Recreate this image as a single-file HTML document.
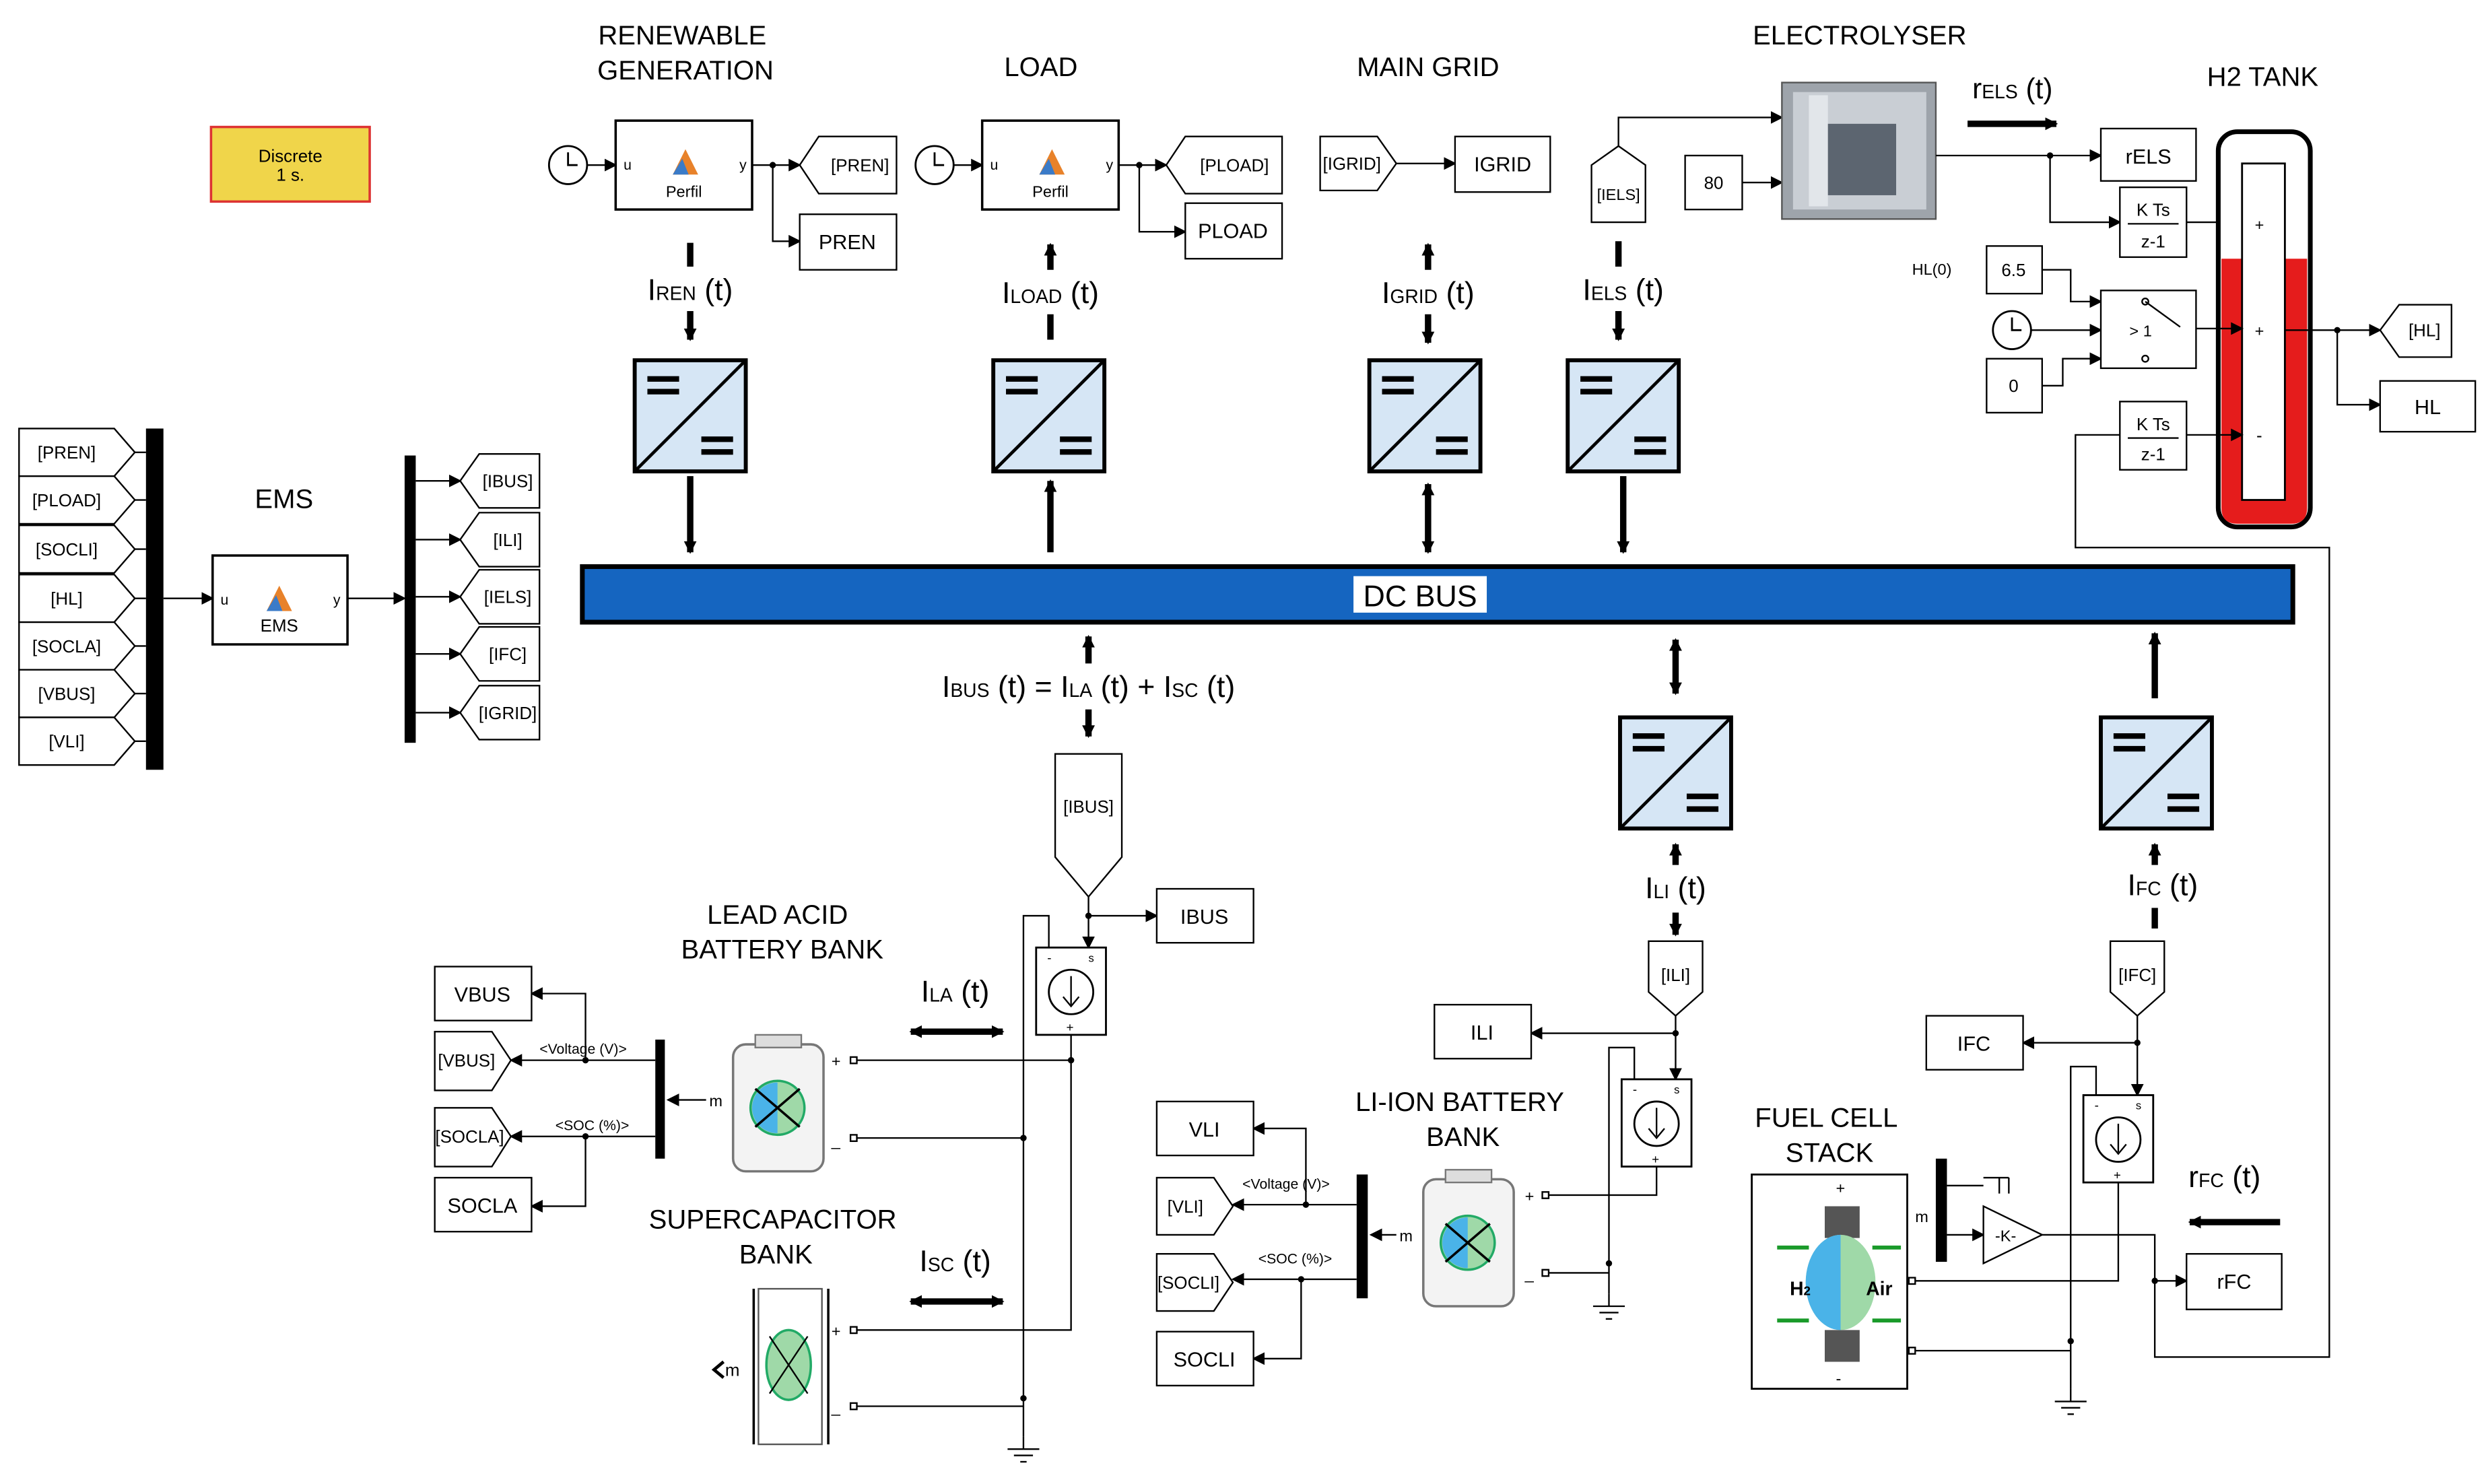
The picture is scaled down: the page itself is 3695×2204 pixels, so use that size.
<!DOCTYPE html>
<html><head><meta charset="utf-8">
<style>
html,body{margin:0;padding:0;background:#fff;}
svg{display:block;}
text{font-family:"Liberation Sans",Arial,sans-serif;fill:#000;}
</style></head>
<body>
<svg width="3695" height="2204" viewBox="0 0 1568 935" xmlns="http://www.w3.org/2000/svg" preserveAspectRatio="none">
<defs>
<marker id="ah" markerWidth="8" markerHeight="8" refX="7" refY="4" orient="auto" markerUnits="userSpaceOnUse"><path d="M0,0 L8,4 L0,8 z" fill="#000"/></marker>
<marker id="aws" markerWidth="8" markerHeight="8" refX="7" refY="4" orient="auto-start-reverse" markerUnits="userSpaceOnUse"><path d="M0,0 L8,4 L0,8 z" fill="#000"/></marker>
<g id="conv">
<rect x="0" y="0" width="70" height="70" fill="#d6e6f5" stroke="#000" stroke-width="2.5"/>
<line x1="0" y1="70" x2="70" y2="0" stroke="#000" stroke-width="2"/>
<rect x="8" y="10" width="20" height="3.5" fill="#000"/><rect x="8" y="18" width="20" height="3.5" fill="#000"/>
<rect x="42" y="48" width="20" height="3.5" fill="#000"/><rect x="42" y="56" width="20" height="3.5" fill="#000"/>
</g>
<g id="csrc">
<rect x="0" y="0" width="44" height="55" fill="#fff" stroke="#000" stroke-width="1.2"/>
<circle cx="22" cy="28" r="14" fill="#fff" stroke="#000" stroke-width="1.2"/>
<line x1="22" y1="18" x2="22" y2="36" stroke="#000"/><path d="M17,31 L22,37 L27,31" fill="none" stroke="#000"/>
<text x="7" y="9" font-size="8">-</text><text x="33" y="9" font-size="7">s</text><text x="19" y="53" font-size="8">+</text>
</g>
<g id="clk"><circle cx="0" cy="0" r="12" fill="#fff" stroke="#000" stroke-width="1.2"/><path d="M0,-8 L0,0 L6,0" fill="none" stroke="#000" stroke-width="1.2"/></g>
<g id="gnd"><line x1="0" y1="0" x2="0" y2="8" stroke="#000"/><line x1="-10" y1="8" x2="10" y2="8" stroke="#000"/><line x1="-6" y1="12" x2="6" y2="12" stroke="#000"/><line x1="-2" y1="16" x2="2" y2="16" stroke="#000"/></g>
<g id="batt">
<rect x="0" y="6" width="57" height="80" rx="8" fill="#f3f3f3" stroke="#777" stroke-width="1.5"/>
<rect x="14" y="0" width="29" height="8" fill="#ddd" stroke="#777"/>
<circle cx="28" cy="46" r="17" fill="#9fd9a8" stroke="#2a6" stroke-width="1.5"/>
<path d="M12,46 A16,16 0 0 1 28,30 L28,62 A16,16 0 0 1 12,46z" fill="#4ab3e8"/>
<line x1="14" y1="34" x2="42" y2="58" stroke="#000" stroke-width="1.5"/><line x1="14" y1="58" x2="42" y2="34" stroke="#000" stroke-width="1.5"/>
</g>
</defs>

<rect x="133" y="80" width="100" height="47" fill="#f0d54a" stroke="#d33" stroke-width="1.5"/>
<text x="183" y="102" font-size="11" text-anchor="middle">Discrete</text>
<text x="183" y="114" font-size="11" text-anchor="middle">1 s.</text>

<g font-size="17" text-anchor="middle">
<text x="430" y="28">RENEWABLE</text><text x="432" y="50">GENERATION</text>
<text x="656" y="48">LOAD</text>
<text x="900" y="48">MAIN GRID</text>
<text x="1172" y="28">ELECTROLYSER</text>
<text x="1426" y="54">H2 TANK</text>
<text x="179" y="320">EMS</text>
<text x="490" y="582">LEAD ACID</text><text x="493" y="604">BATTERY BANK</text>
<text x="487" y="774">SUPERCAPACITOR</text><text x="489" y="796">BANK</text>
<text x="920" y="700">LI-ION BATTERY</text><text x="922" y="722">BANK</text>
<text x="1151" y="710">FUEL CELL</text><text x="1153" y="732">STACK</text>
</g>

<use href="#clk" x="358" y="104"/>
<line x1="370" y1="104" x2="388" y2="104" stroke="#000" marker-end="url(#ah)"/>
<rect x="388" y="76" width="86" height="56" fill="#fff" stroke="#000" stroke-width="1.5"/>
<text x="393" y="107" font-size="9">u</text><text x="466" y="107" font-size="9">y</text>
<path d="M424,110 L432,94 L440,110 z" fill="#e8822a"/><path d="M424,110 L430,100 L434,110z" fill="#3a7bc8"/>
<text x="431" y="124" font-size="10" text-anchor="middle">Perfil</text>
<line x1="474" y1="104" x2="504" y2="104" stroke="#000" marker-end="url(#ah)"/>
<circle cx="487" cy="104" r="2" fill="#000"/>
<polyline points="487,104 487,152 504,152" fill="none" stroke="#000" marker-end="url(#ah)"/>
<polygon points="504,104 516,86 565,86 565,122 516,122" fill="#fff" stroke="#000"/>
<text x="542" y="108" font-size="11" text-anchor="middle">[PREN]</text>
<rect x="504" y="135" width="61" height="35" fill="#fff" stroke="#000"/>
<text x="534" y="157" font-size="13" text-anchor="middle">PREN</text>

<use href="#clk" x="589" y="104"/>
<line x1="601" y1="104" x2="619" y2="104" stroke="#000" marker-end="url(#ah)"/>
<rect x="619" y="76" width="86" height="56" fill="#fff" stroke="#000" stroke-width="1.5"/>
<text x="624" y="107" font-size="9">u</text><text x="697" y="107" font-size="9">y</text>
<path d="M655,110 L663,94 L671,110 z" fill="#e8822a"/><path d="M655,110 L661,100 L665,110z" fill="#3a7bc8"/>
<text x="662" y="124" font-size="10" text-anchor="middle">Perfil</text>
<line x1="705" y1="104" x2="735" y2="104" stroke="#000" marker-end="url(#ah)"/>
<circle cx="718" cy="104" r="2" fill="#000"/>
<polyline points="718,104 718,146 747,146" fill="none" stroke="#000" marker-end="url(#ah)"/>
<polygon points="735,104 747,86 808,86 808,122 747,122" fill="#fff" stroke="#000"/>
<text x="778" y="108" font-size="11" text-anchor="middle">[PLOAD]</text>
<rect x="747" y="128" width="61" height="35" fill="#fff" stroke="#000"/>
<text x="777" y="150" font-size="13" text-anchor="middle">PLOAD</text>

<polygon points="832,86 868,86 880,103 868,120 832,120" fill="#fff" stroke="#000"/>
<text x="852" y="107" font-size="11" text-anchor="middle">[IGRID]</text>
<line x1="880" y1="103" x2="917" y2="103" stroke="#000" marker-end="url(#ah)"/>
<rect x="917" y="86" width="60" height="35" fill="#fff" stroke="#000"/>
<text x="947" y="108" font-size="13" text-anchor="middle">IGRID</text>

<polygon points="1003,104 1020,92 1037,104 1037,140 1003,140" fill="#fff" stroke="#000"/>
<text x="1020" y="126" font-size="10" text-anchor="middle">[IELS]</text>
<polyline points="1020,92 1020,74 1123,74" fill="none" stroke="#000" marker-end="url(#ah)"/>
<rect x="1062" y="98" width="36" height="34" fill="#fff" stroke="#000"/>
<text x="1080" y="119" font-size="11" text-anchor="middle">80</text>
<line x1="1098" y1="115" x2="1123" y2="115" stroke="#000" marker-end="url(#ah)"/>
<rect x="1123" y="52" width="97" height="86" fill="#9ea4ab" stroke="#555"/>
<rect x="1130" y="58" width="84" height="74" fill="#c9ced4"/>
<rect x="1150" y="78" width="45" height="45" fill="#5c6570"/>
<rect x="1140" y="60" width="12" height="70" fill="#e2e6ea"/>
<line x1="1240" y1="78" x2="1296" y2="78" stroke="#000" stroke-width="4" marker-end="url(#ah)"/>
<text x="1243" y="62" font-size="18">r<tspan font-size="12">ELS</tspan> (t)</text>
<line x1="1220" y1="98" x2="1324" y2="98" stroke="#000" marker-end="url(#ah)"/>
<circle cx="1292" cy="98" r="2" fill="#000"/>
<polyline points="1292,98 1292,140 1336,140" fill="none" stroke="#000" marker-end="url(#ah)"/>
<rect x="1324" y="81" width="60" height="33" fill="#fff" stroke="#000"/>
<text x="1354" y="103" font-size="13" text-anchor="middle">rELS</text>
<rect x="1336" y="118" width="42" height="44" fill="#fff" stroke="#000"/>
<text x="1357" y="136" font-size="11" text-anchor="middle">K Ts</text><line x1="1341" y1="141" x2="1373" y2="141" stroke="#000"/>
<text x="1357" y="156" font-size="11" text-anchor="middle">z-1</text>
<line x1="1378" y1="140" x2="1413" y2="140" stroke="#000" marker-end="url(#ah)"/>

<rect x="1398" y="83" width="58" height="249" rx="12" fill="#fff" stroke="#000" stroke-width="3"/>
<path d="M1400,163 L1454,163 L1454,320 Q1454,330 1444,330 L1410,330 Q1400,330 1400,320z" fill="#e51c1c"/>
<rect x="1413" y="103" width="27" height="212" fill="#fff" stroke="#000" stroke-width="1.2"/>
<text x="1421" y="145" font-size="10">+</text><text x="1421" y="212" font-size="10">+</text><text x="1422" y="278" font-size="11">-</text>
<text x="1205" y="173" font-size="10">HL(0)</text>
<rect x="1252" y="155" width="35" height="30" fill="#fff" stroke="#000"/>
<text x="1269" y="174" font-size="11" text-anchor="middle">6.5</text>
<polyline points="1287,170 1305,170 1305,190 1324,190" fill="none" stroke="#000" marker-end="url(#ah)"/>
<use href="#clk" x="1268" y="208"/>
<line x1="1280" y1="208" x2="1324" y2="208" stroke="#000" marker-end="url(#ah)"/>
<rect x="1252" y="226" width="35" height="34" fill="#fff" stroke="#000"/>
<text x="1269" y="247" font-size="11" text-anchor="middle">0</text>
<polyline points="1287,243 1300,243 1300,226 1324,226" fill="none" stroke="#000" marker-end="url(#ah)"/>
<rect x="1324" y="183" width="60" height="49" fill="#fff" stroke="#000"/>
<text x="1342" y="212" font-size="10">&gt; 1</text>
<path d="M1352,190 L1374,206" stroke="#000"/><circle cx="1352" cy="190" r="2" fill="none" stroke="#000"/><circle cx="1352" cy="226" r="2" fill="none" stroke="#000"/>
<line x1="1384" y1="207" x2="1413" y2="207" stroke="#000" marker-end="url(#ah)"/>
<rect x="1336" y="253" width="42" height="43" fill="#fff" stroke="#000"/>
<text x="1357" y="271" font-size="11" text-anchor="middle">K Ts</text><line x1="1341" y1="276" x2="1373" y2="276" stroke="#000"/>
<text x="1357" y="290" font-size="11" text-anchor="middle">z-1</text>
<line x1="1378" y1="274" x2="1413" y2="274" stroke="#000" marker-end="url(#ah)"/>
<line x1="1440" y1="208" x2="1500" y2="208" stroke="#000" marker-end="url(#ah)"/>
<circle cx="1473" cy="208" r="2" fill="#000"/>
<polyline points="1473,208 1473,255 1500,255" fill="none" stroke="#000" marker-end="url(#ah)"/>
<polygon points="1500,208 1512,192 1545,192 1545,225 1512,225" fill="#fff" stroke="#000"/>
<text x="1528" y="212" font-size="11" text-anchor="middle">[HL]</text>
<rect x="1500" y="240" width="60" height="32" fill="#fff" stroke="#000"/>
<text x="1530" y="261" font-size="13" text-anchor="middle">HL</text>

<use href="#conv" x="400" y="227"/>
<use href="#conv" x="626" y="227"/>
<use href="#conv" x="863" y="227"/>
<use href="#conv" x="988" y="227"/>
<use href="#conv" x="1021" y="452"/>
<use href="#conv" x="1324" y="452"/>

<rect x="367" y="357" width="1078" height="35" fill="#1565c0" stroke="#000" stroke-width="3"/>
<rect x="853" y="363" width="84" height="23" fill="#fff"/>
<text x="895" y="382" font-size="19" text-anchor="middle">DC BUS</text>

<g stroke="#000" stroke-width="4">
<line x1="435" y1="153" x2="435" y2="168"/><line x1="435" y1="196" x2="435" y2="214" marker-end="url(#ah)"/>
<line x1="435" y1="300" x2="435" y2="348" marker-end="url(#ah)"/>
<line x1="662" y1="198" x2="662" y2="214"/><line x1="662" y1="170" x2="662" y2="154" marker-end="url(#ah)"/>
<line x1="662" y1="348" x2="662" y2="303" marker-end="url(#ah)"/>
<line x1="900" y1="170" x2="900" y2="154" marker-end="url(#ah)"/><line x1="900" y1="198" x2="900" y2="216" marker-end="url(#ah)"/>
<line x1="900" y1="305" x2="900" y2="348" marker-end="url(#ah)" marker-start="url(#aws)"/>
<line x1="1056" y1="403" x2="1056" y2="437" marker-end="url(#ah)" marker-start="url(#aws)"/>
<line x1="1358" y1="440" x2="1358" y2="399" marker-end="url(#ah)"/>
<line x1="1020" y1="152" x2="1020" y2="168"/><line x1="1020" y1="196" x2="1020" y2="214" marker-end="url(#ah)"/>
<line x1="1023" y1="300" x2="1023" y2="348" marker-end="url(#ah)"/>
<line x1="686" y1="418" x2="686" y2="401" marker-end="url(#ah)"/>
<line x1="686" y1="447" x2="686" y2="464" marker-end="url(#ah)"/>
<line x1="1056" y1="545" x2="1056" y2="532" marker-end="url(#ah)"/>
<line x1="1056" y1="575" x2="1056" y2="589" marker-end="url(#ah)"/>
<line x1="1358" y1="545" x2="1358" y2="532" marker-end="url(#ah)"/>
<line x1="1358" y1="572" x2="1358" y2="585"/>
<line x1="574" y1="650" x2="632" y2="650" marker-end="url(#ah)" marker-start="url(#aws)"/>
<line x1="574" y1="820" x2="632" y2="820" marker-end="url(#ah)" marker-start="url(#aws)"/>
<line x1="1437" y1="770" x2="1380" y2="770" marker-end="url(#ah)"/>
</g>
<g font-size="19" text-anchor="middle">
<text x="435" y="189">I<tspan font-size="12">REN</tspan> (t)</text>
<text x="662" y="191">I<tspan font-size="12">LOAD</tspan> (t)</text>
<text x="900" y="191">I<tspan font-size="12">GRID</tspan> (t)</text>
<text x="1023" y="189">I<tspan font-size="12">ELS</tspan> (t)</text>
<text x="686" y="439">I<tspan font-size="12">BUS</tspan> (t) = I<tspan font-size="12">LA</tspan> (t) + I<tspan font-size="12">SC</tspan> (t)</text>
<text x="1056" y="566">I<tspan font-size="12">LI</tspan> (t)</text>
<text x="1363" y="564">I<tspan font-size="12">FC</tspan> (t)</text>
<text x="602" y="631">I<tspan font-size="12">LA</tspan> (t)</text>
<text x="602" y="801">I<tspan font-size="12">SC</tspan> (t)</text>
<text x="1402" y="748">r<tspan font-size="12">FC</tspan> (t)</text>
</g>

<rect x="92" y="270" width="11" height="215" fill="#000"/>
<g font-size="11" text-anchor="middle">
<polygon points="12,270 72,270 85,285 72,300 12,300" fill="#fff" stroke="#000"/><text x="42" y="289">[PREN]</text>
<polygon points="12,300 72,300 85,315 72,330 12,330" fill="#fff" stroke="#000"/><text x="42" y="319">[PLOAD]</text>
<polygon points="12,331 72,331 85,346 72,361 12,361" fill="#fff" stroke="#000"/><text x="42" y="350">[SOCLI]</text>
<polygon points="12,362 72,362 85,377 72,392 12,392" fill="#fff" stroke="#000"/><text x="42" y="381">[HL]</text>
<polygon points="12,392 72,392 85,407 72,422 12,422" fill="#fff" stroke="#000"/><text x="42" y="411">[SOCLA]</text>
<polygon points="12,422 72,422 85,437 72,452 12,452" fill="#fff" stroke="#000"/><text x="42" y="441">[VBUS]</text>
<polygon points="12,452 72,452 85,467 72,482 12,482" fill="#fff" stroke="#000"/><text x="42" y="471">[VLI]</text>
</g>
<g stroke="#000">
<line x1="85" y1="285" x2="92" y2="285"/><line x1="85" y1="315" x2="92" y2="315"/><line x1="85" y1="346" x2="92" y2="346"/><line x1="85" y1="377" x2="92" y2="377"/><line x1="85" y1="407" x2="92" y2="407"/><line x1="85" y1="437" x2="92" y2="437"/><line x1="85" y1="467" x2="92" y2="467"/>
<line x1="103" y1="377" x2="134" y2="377" marker-end="url(#ah)"/>
<line x1="219" y1="377" x2="255" y2="377" marker-end="url(#ah)"/>
</g>
<rect x="134" y="350" width="85" height="56" fill="#fff" stroke="#000" stroke-width="1.5"/>
<text x="139" y="381" font-size="9">u</text><text x="210" y="381" font-size="9">y</text>
<path d="M168,385 L176,369 L184,385 z" fill="#e8822a"/><path d="M168,385 L174,375 L178,385z" fill="#3a7bc8"/>
<text x="176" y="398" font-size="11" text-anchor="middle">EMS</text>
<rect x="255" y="287" width="7" height="181" fill="#000"/>
<g stroke="#000"><line x1="262" y1="303" x2="290" y2="303" marker-end="url(#ah)"/><line x1="262" y1="340" x2="290" y2="340" marker-end="url(#ah)"/><line x1="262" y1="376" x2="290" y2="376" marker-end="url(#ah)"/><line x1="262" y1="412" x2="290" y2="412" marker-end="url(#ah)"/><line x1="262" y1="449" x2="290" y2="449" marker-end="url(#ah)"/></g>
<g font-size="11" text-anchor="middle">
<polygon points="290,303 302,286 340,286 340,320 302,320" fill="#fff" stroke="#000"/><text x="320" y="307">[IBUS]</text>
<polygon points="290,340 302,323 340,323 340,357 302,357" fill="#fff" stroke="#000"/><text x="320" y="344">[ILI]</text>
<polygon points="290,376 302,359 340,359 340,393 302,393" fill="#fff" stroke="#000"/><text x="320" y="380">[IELS]</text>
<polygon points="290,412 302,395 340,395 340,429 302,429" fill="#fff" stroke="#000"/><text x="320" y="416">[IFC]</text>
<polygon points="290,449 302,432 340,432 340,466 302,466" fill="#fff" stroke="#000"/><text x="320" y="453">[IGRID]</text>
</g>

<polygon points="665,475 707,475 707,540 686,565 665,540" fill="#fff" stroke="#000"/>
<text x="686" y="512" font-size="11" text-anchor="middle">[IBUS]</text>
<line x1="686" y1="565" x2="686" y2="597" stroke="#000" marker-end="url(#ah)"/>
<circle cx="686" cy="577" r="2" fill="#000"/>
<line x1="686" y1="577" x2="729" y2="577" stroke="#000" marker-end="url(#ah)"/>
<rect x="729" y="560" width="61" height="34" fill="#fff" stroke="#000"/>
<text x="759" y="582" font-size="13" text-anchor="middle">IBUS</text>
<use href="#csrc" x="653" y="597"/>
<g stroke="#000" fill="none">
<polyline points="661,597 661,577 645,577 645,905"/>
<polyline points="675,652 675,838 538,838"/>
<line x1="538" y1="668" x2="675" y2="668"/>
<line x1="538" y1="717" x2="645" y2="717"/>
<line x1="538" y1="886" x2="645" y2="886"/>
</g>
<circle cx="675" cy="668" r="2" fill="#000"/><circle cx="645" cy="717" r="2" fill="#000"/><circle cx="645" cy="881" r="2" fill="#000"/>
<use href="#gnd" x="645" y="905"/>
<rect x="536" y="666" width="4" height="4" fill="#fff" stroke="#000"/><rect x="536" y="715" width="4" height="4" fill="#fff" stroke="#000"/>
<rect x="536" y="836" width="4" height="4" fill="#fff" stroke="#000"/><rect x="536" y="884" width="4" height="4" fill="#fff" stroke="#000"/>
<text x="524" y="672" font-size="10">+</text><text x="524" y="722" font-size="10">_</text>
<text x="524" y="842" font-size="10">+</text><text x="524" y="890" font-size="10">_</text>

<use href="#batt" x="462" y="652"/>
<rect x="413" y="655" width="6" height="75" fill="#000"/>
<text x="447" y="697" font-size="10" fill="#00a">m</text>
<line x1="445" y1="693" x2="421" y2="693" stroke="#000" marker-end="url(#ah)"/>
<g stroke="#000" fill="none">
<polyline points="413,668 369,668 369,626 335,626" marker-end="url(#ah)"/>
<line x1="369" y1="668" x2="322" y2="668" marker-end="url(#ah)"/>
<polyline points="413,716 369,716 369,760 335,760" marker-end="url(#ah)"/>
<line x1="369" y1="716" x2="322" y2="716" marker-end="url(#ah)"/>
</g>
<circle cx="369" cy="668" r="2" fill="#000"/><circle cx="369" cy="716" r="2" fill="#000"/>
<text x="340" y="664" font-size="9">&lt;Voltage (V)&gt;</text><text x="350" y="712" font-size="9">&lt;SOC (%)&gt;</text>
<rect x="274" y="609" width="61" height="34" fill="#fff" stroke="#000"/><text x="304" y="631" font-size="13" text-anchor="middle">VBUS</text>
<polygon points="274,650 310,650 322,668 310,687 274,687" fill="#fff" stroke="#000"/><text x="294" y="672" font-size="11" text-anchor="middle">[VBUS]</text>
<polygon points="274,698 310,698 322,716 310,735 274,735" fill="#fff" stroke="#000"/><text x="296" y="720" font-size="11" text-anchor="middle">[SOCLA]</text>
<rect x="274" y="742" width="61" height="34" fill="#fff" stroke="#000"/><text x="304" y="764" font-size="13" text-anchor="middle">SOCLA</text>

<rect x="478" y="812" width="40" height="98" fill="#fff" stroke="#555"/>
<line x1="475" y1="812" x2="475" y2="910" stroke="#000" stroke-width="1.5"/><line x1="522" y1="812" x2="522" y2="910" stroke="#000" stroke-width="1.5"/>
<ellipse cx="497" cy="860" rx="14" ry="22" fill="#9fd9a8" stroke="#2a6" stroke-width="1.5"/>
<line x1="485" y1="842" x2="509" y2="878" stroke="#000"/><line x1="485" y1="878" x2="509" y2="842" stroke="#000"/>
<text x="457" y="867" font-size="11" fill="#00a">m</text>
<path d="M456,858 L450,863 L456,868" fill="none" stroke="#000" stroke-width="2"/>

<polygon points="1039,593 1073,593 1073,625 1056,640 1039,625" fill="#fff" stroke="#000"/>
<text x="1056" y="618" font-size="11" text-anchor="middle">[ILI]</text>
<line x1="1056" y1="640" x2="1056" y2="680" stroke="#000" marker-end="url(#ah)"/>
<circle cx="1056" cy="651" r="2" fill="#000"/>
<line x1="1056" y1="651" x2="965" y2="651" stroke="#000" marker-end="url(#ah)"/>
<rect x="904" y="633" width="61" height="34" fill="#fff" stroke="#000"/><text x="934" y="655" font-size="13" text-anchor="middle">ILI</text>
<use href="#csrc" x="1022" y="680"/>
<g stroke="#000" fill="none">
<polyline points="1030,680 1030,660 1014,660 1014,815"/>
<polyline points="1044,735 1044,753 974,753"/>
<line x1="974" y1="802" x2="1014" y2="802"/>
</g>
<circle cx="1014" cy="796" r="2" fill="#000"/>
<use href="#gnd" x="1014" y="815"/>
<rect x="972" y="751" width="4" height="4" fill="#fff" stroke="#000"/><rect x="972" y="800" width="4" height="4" fill="#fff" stroke="#000"/>
<text x="961" y="757" font-size="10">+</text><text x="961" y="806" font-size="10">_</text>
<use href="#batt" x="897" y="737"/>
<rect x="855" y="740" width="7" height="78" fill="#000"/>
<text x="882" y="782" font-size="10" fill="#00a">m</text>
<line x1="880" y1="778" x2="864" y2="778" stroke="#000" marker-end="url(#ah)"/>
<g stroke="#000" fill="none">
<polyline points="855,759 823,759 823,711 790,711" marker-end="url(#ah)"/>
<line x1="823" y1="759" x2="777" y2="759" marker-end="url(#ah)"/>
<polyline points="855,806 820,806 820,856 790,856" marker-end="url(#ah)"/>
<line x1="820" y1="806" x2="777" y2="806" marker-end="url(#ah)"/>
</g>
<circle cx="823" cy="759" r="2" fill="#000"/><circle cx="820" cy="806" r="2" fill="#000"/>
<text x="783" y="749" font-size="9">&lt;Voltage (V)&gt;</text><text x="793" y="796" font-size="9">&lt;SOC (%)&gt;</text>
<rect x="729" y="694" width="61" height="34" fill="#fff" stroke="#000"/><text x="759" y="716" font-size="13" text-anchor="middle">VLI</text>
<polygon points="729,742 765,742 777,760 765,778 729,778" fill="#fff" stroke="#000"/><text x="747" y="764" font-size="11" text-anchor="middle">[VLI]</text>
<polygon points="729,790 765,790 777,808 765,826 729,826" fill="#fff" stroke="#000"/><text x="749" y="812" font-size="11" text-anchor="middle">[SOCLI]</text>
<rect x="729" y="839" width="61" height="34" fill="#fff" stroke="#000"/><text x="759" y="861" font-size="13" text-anchor="middle">SOCLI</text>

<polygon points="1330,593 1364,593 1364,625 1347,640 1330,625" fill="#fff" stroke="#000"/>
<text x="1347" y="618" font-size="11" text-anchor="middle">[IFC]</text>
<line x1="1347" y1="640" x2="1347" y2="690" stroke="#000" marker-end="url(#ah)"/>
<circle cx="1347" cy="657" r="2" fill="#000"/>
<line x1="1347" y1="657" x2="1275" y2="657" stroke="#000" marker-end="url(#ah)"/>
<rect x="1214" y="640" width="61" height="34" fill="#fff" stroke="#000"/><text x="1244" y="662" font-size="13" text-anchor="middle">IFC</text>
<use href="#csrc" x="1313" y="690"/>
<g stroke="#000" fill="none">
<polyline points="1321,690 1321,672 1305,672 1305,875"/>
<polyline points="1335,745 1335,807 1205,807"/>
<line x1="1205" y1="851" x2="1305" y2="851"/>
<polyline points="1287,778 1358,778 1358,855 1468,855 1468,345 1308,345 1308,274 1336,274"/>
<polyline points="1358,807 1378,807" marker-end="url(#ah)"/>
<line x1="1227" y1="778" x2="1250" y2="778" marker-end="url(#ah)"/>
<polyline points="1227,747 1250,747"/>
</g>
<circle cx="1358" cy="807" r="2" fill="#000"/><circle cx="1305" cy="845" r="2" fill="#000"/>
<path d="M1250,742 L1266,742 M1260,742 L1260,752 M1266,742 L1266,752" stroke="#000" fill="none"/>
<use href="#gnd" x="1305" y="875"/>
<polygon points="1250,760 1287,778 1250,796" fill="#fff" stroke="#000"/>
<text x="1264" y="782" font-size="10" text-anchor="middle">-K-</text>
<rect x="1220" y="730" width="7" height="65" fill="#000"/>
<text x="1207" y="770" font-size="10" fill="#00a">m</text>
<rect x="1378" y="790" width="60" height="35" fill="#fff" stroke="#000"/><text x="1408" y="812" font-size="13" text-anchor="middle">rFC</text>
<rect x="1104" y="740" width="98" height="135" fill="#fff" stroke="#000" stroke-width="1.2"/>
<rect x="1150" y="760" width="22" height="20" fill="#555"/><rect x="1150" y="838" width="22" height="20" fill="#555"/>
<ellipse cx="1160" cy="808" rx="22" ry="30" fill="#9fd9a8"/>
<path d="M1138,808 A22,30 0 0 1 1160,778 L1160,838 A22,30 0 0 1 1138,808z" fill="#4ab3e8"/>
<g stroke="#1a9a2a" stroke-width="2.5"><line x1="1120" y1="786" x2="1140" y2="786"/><line x1="1180" y1="786" x2="1198" y2="786"/><line x1="1120" y1="832" x2="1140" y2="832"/><line x1="1180" y1="832" x2="1198" y2="832"/></g>
<text x="1128" y="816" font-size="12" font-weight="bold" fill="#000">H<tspan font-size="8">2</tspan></text>
<text x="1176" y="816" font-size="12" font-weight="bold" fill="#1a9a2a">Air</text>
<text x="1157" y="752" font-size="10">+</text><text x="1157" y="872" font-size="10">-</text>
<rect x="1203" y="805" width="4" height="4" fill="#fff" stroke="#000"/><rect x="1203" y="849" width="4" height="4" fill="#fff" stroke="#000"/>
</svg>
</body></html>
